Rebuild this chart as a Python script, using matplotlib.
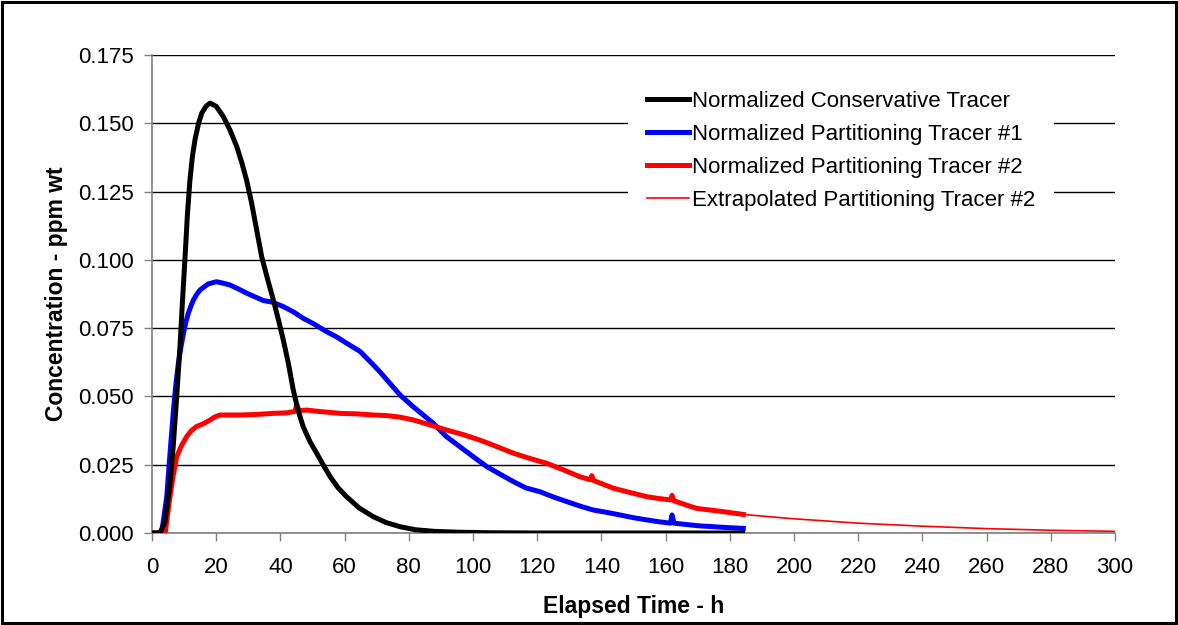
import matplotlib
matplotlib.use("Agg")
import matplotlib.pyplot as plt
from matplotlib.patches import Rectangle

plt.rcParams['font.family'] = ['Liberation Sans', 'DejaVu Sans']

# Normalized Conservative Tracer
t_cons = [0, 2.5, 4.0, 5.5, 6.6, 7.7, 8.7, 9.5, 10.3, 11.0, 11.8, 12.6, 13.4, 14.5, 15.5, 16.8, 18.1,
          20.0, 22.2, 24.3, 26.4, 28.0, 29.5, 31.0, 32.6, 34.2, 36.0, 37.8, 39.4, 40.9, 42.5, 44.0,
          45.5, 47.1, 49.2, 51.3, 53.4, 55.5, 58.0, 60.6, 64.5, 68.9, 73.0, 77.3, 82.0, 88.0, 95.0,
          105.0, 120.0, 140.0, 160.0, 184.0]
c_cons = [0, 0, 0.004, 0.017, 0.0316, 0.050, 0.068, 0.085, 0.101, 0.116, 0.129, 0.138, 0.144, 0.150,
          0.1537, 0.1562, 0.1574, 0.1562, 0.1525, 0.1475, 0.1415, 0.1355, 0.129, 0.121, 0.111, 0.101,
          0.093, 0.0853, 0.078, 0.0707, 0.062, 0.0524, 0.045, 0.0389, 0.0335, 0.0292, 0.0248, 0.0206,
          0.0165, 0.0133, 0.0092, 0.006, 0.0038, 0.0023, 0.0012, 0.0006, 0.0003, 0.0001, 0.0, 0.0, 0.0, 0.0]

# Normalized Partitioning Tracer #1
t_p1 = [0, 3.0, 4.6, 5.6, 6.6, 7.4, 8.2, 9.0, 9.8, 10.5, 11.3, 12.1, 12.9, 14.0, 15.0, 17.5, 20.1,
        22.0, 24.3, 27.0, 29.5, 32.0, 34.7, 37.5, 40.9, 44.0, 47.1, 50.5, 54.4, 57.5, 60.6, 64.8,
        69.0, 71.0, 77.3, 81.4, 87.6, 91.5, 95.9, 100.0, 104.3, 108.5, 112.6, 116.5, 120.9, 125.0,
        129.2, 133.5, 137.5, 141.5, 145.8, 150.0, 154.1, 158.0, 161.5, 162.0, 162.6, 166.5, 170.7,
        175.0, 179.0, 184.2]
c_p1 = [0, 0, 0.0133, 0.029, 0.0438, 0.054, 0.062, 0.068, 0.0731, 0.077, 0.0804, 0.083, 0.0853, 0.0875,
        0.089, 0.0912, 0.092, 0.0915, 0.0908, 0.0893, 0.0878, 0.0865, 0.0851, 0.0845, 0.0829, 0.081,
        0.0786, 0.0765, 0.0737, 0.0718, 0.0695, 0.0665, 0.0615, 0.059, 0.0505, 0.0462, 0.0402, 0.0355,
        0.0316, 0.0280, 0.0243, 0.0215, 0.0188, 0.0165, 0.0151, 0.0132, 0.0115, 0.0098, 0.0084,
        0.0076, 0.0066, 0.0056, 0.0048, 0.0041, 0.0036, 0.0066, 0.0036, 0.0031, 0.0026, 0.0023,
        0.0020, 0.0017]

# Normalized Partitioning Tracer #2
t_p2 = [0, 4.1, 5.6, 6.6, 7.7, 9.2, 10.8, 12.3, 13.9, 16.0, 18.1, 19.6, 21.2, 27.4, 32.5, 37.8, 42.0,
        44.5, 45.1, 45.8, 48.2, 52.0, 58.6, 64.0, 69.0, 73.0, 77.3, 81.4, 86.5, 91.8, 97.0, 102.2,
        107.5, 112.6, 118.0, 123.0, 128.0, 133.3, 136.5, 137.0, 137.6, 143.7, 149.0, 154.1, 158.0,
        161.5, 162.0, 162.6, 166.0, 169.7, 174.0, 178.0, 184.2]
c_p2 = [0, 0, 0.0133, 0.021, 0.028, 0.032, 0.0353, 0.0375, 0.039, 0.040, 0.0414, 0.0425, 0.0432,
        0.0432, 0.0434, 0.0438, 0.0440, 0.0445, 0.0469, 0.0448, 0.045, 0.0445, 0.0438, 0.0436,
        0.0432, 0.0430, 0.0424, 0.0414, 0.0396, 0.0377, 0.0360, 0.034, 0.0316, 0.0292, 0.0272,
        0.0255, 0.0232, 0.0206, 0.0195, 0.0210, 0.0192, 0.0164, 0.0148, 0.0133, 0.0126, 0.0121,
        0.0138, 0.0118, 0.0104, 0.009, 0.0084, 0.0078, 0.0068]

# Extrapolated Partitioning Tracer #2
t_ext = [184.2, 200, 220, 240, 260, 280, 300]
c_ext = [0.0068, 0.0052, 0.0036, 0.0025, 0.0016, 0.0010, 0.0006]

x_ticks = list(range(0, 301, 20))
y_ticks = [0.000, 0.025, 0.050, 0.075, 0.100, 0.125, 0.150, 0.175]

fig = plt.figure(figsize=(11.78, 6.25), dpi=100)
ax = fig.add_axes([152/1178, 1-533/625, (1115-152)/1178, (533-55)/625])

ax.plot(t_cons, c_cons, color='black', lw=3.6, label='Normalized Conservative Tracer', zorder=4)
ax.plot(t_p1, c_p1, color='#0000ff', lw=3.6, label='Normalized Partitioning Tracer #1', zorder=3)
ax.plot(t_p2, c_p2, color='#ff0000', lw=3.6, label='Normalized Partitioning Tracer #2', zorder=3)
ax.plot(t_ext, c_ext, color='#ff0000', lw=1.2, label='Extrapolated Partitioning Tracer #2', zorder=2)

ax.set_xlim(0, 300)
ax.set_ylim(0, 0.175)
ax.set_xticks(x_ticks)
ax.set_xticklabels([str(v) for v in x_ticks])
ax.set_yticks(y_ticks)
ax.set_yticklabels([f"{v:.3f}" for v in y_ticks])
ax.tick_params(axis='both', labelsize=16, length=6, width=1, color='#808080', direction='out')
ax.tick_params(axis='x', pad=11)
ax.tick_params(axis='y', pad=7)
ax.yaxis.grid(True, color='black', lw=1)
ax.set_axisbelow(True)
for s in ['top', 'right']:
    ax.spines[s].set_visible(False)
for s in ['left', 'bottom']:
    ax.spines[s].set_color('#808080')
    ax.spines[s].set_linewidth(1.2)

ax.set_xlabel('Elapsed Time - h', fontsize=16.5, fontweight='bold', va='center')
ax.set_ylabel('Concentration - ppm wt', fontsize=16.5, fontweight='bold', va='center')
ax.xaxis.set_label_coords((634-152)/963, (533-607)/478)
ax.yaxis.set_label_coords((57-152)/963, (533-294)/478)

leg = ax.legend(loc='upper left', bbox_to_anchor=(0.4943, 0.9644), fontsize=16, frameon=True,
                handlelength=1.9, handletextpad=0.14, labelspacing=0.54, borderpad=0.85,
                borderaxespad=0)
leg.get_frame().set_edgecolor('none')
leg.get_frame().set_facecolor('white')
leg.get_frame().set_alpha(1)

fig.patches.append(Rectangle((0.002, 0.003), 0.996, 0.994, transform=fig.transFigure,
                             fill=False, edgecolor='black', lw=2.2))

fig.savefig('out.png', dpi=100)
